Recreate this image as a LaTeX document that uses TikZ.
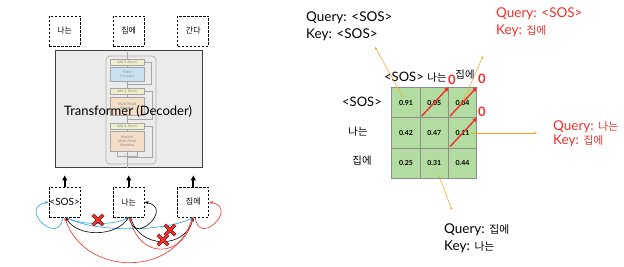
\documentclass[tikz,border=0pt]{standalone}
\usepackage{fontspec}
\setmainfont{Lato}
\newfontfamily\kr[Scale=0.8]{Noto Sans CJK KR}
\usetikzlibrary{arrows.meta,shapes.misc}
\definecolor{qblue}{HTML}{29A8E0}
\definecolor{qred}{HTML}{F0302A}
\definecolor{hint}{HTML}{F5A31E}
\definecolor{cellgreen}{HTML}{B3DDA0}
\definecolor{tfgray}{HTML}{EBEBEB}
\definecolor{anfill}{HTML}{EEF0CC}
\definecolor{fffill}{HTML}{C8E3EF}
\definecolor{attfill}{HTML}{F4DEC8}

\begin{document}
\begin{tikzpicture}[
  x=1pt, y=-1pt, font=\fontsize{10}{12}\selectfont,
  tok/.style={draw,line width=0.8pt,dash pattern=on 2.5pt off 1.5pt,minimum width=31pt,
              minimum height=30pt,inner sep=0pt},
  blk/.style={draw=black!35,line width=0.4pt,minimum width=34pt,inner sep=0pt,align=center,
              text=black!45,font=\fontsize{3.6}{4}\selectfont},
  res/.style={draw=black!35,line width=0.5pt,-{Stealth[length=1.5pt,width=1.5pt]}},
  up/.style={-{Triangle[length=5pt,width=5pt]},line width=1.8pt,shorten >=7pt},
  att/.style={line width=0.6pt,-{Stealth[length=4pt,width=3pt]}},
  xmark/.style={cross out,draw=black,line width=0.4pt,double=qred,double distance=2.6pt,
                minimum size=10pt,inner sep=0pt},
  cell/.style={draw=black!45,line width=0.8pt,fill=cellgreen,minimum width=28.3pt,
               minimum height=30.3pt,inner sep=0pt,font=\fontsize{7}{8}\selectfont\bfseries},
  hdr/.style={font=\fontsize{13}{15}\selectfont},
  zero/.style={text=qred,font=\fontsize{13}{14}\selectfont\bfseries,inner sep=0pt},
  zeroarrow/.style={qred,line width=1.4pt,-{Triangle[length=4.5pt,width=4pt]}},
  hintarrow/.style={hint,line width=0.5pt,-{Stealth[length=3pt,width=2.5pt]}},
  qk/.style={align=left,anchor=north west,inner sep=0pt,font=\fontsize{13.5}{17}\selectfont}]

\useasboundingbox (0,0) rectangle (624,267);

% outputs
\node[tok] (o1) at ( 64.7,31) {{\kr 나는}};
\node[tok] (o2) at (128.7,31) {{\kr 집에}};
\node[tok] (o3) at (193.3,31) {{\kr 간다}};

% decoder block
\node[draw=black!75,line width=1pt,fill=tfgray,minimum width=147pt,minimum height=117pt] (tf) at (128.5,109.5) {};
\draw[black!35,line width=0.5pt] (127,52) -- (127,168);
\node[draw=black!30,line width=0.7pt,rounded corners=4pt,minimum width=50pt,minimum height=108pt] (dec) at (131,110) {};
\node[blk,fill=anfill,minimum height=6pt] (an1) at (127,62) {Add \& Norm};
\node[blk,fill=fffill,minimum height=14pt] (ff) at (127,74) {Feed\\Forward};
\node[blk,fill=anfill,minimum height=6pt] (an2) at (127,91) {Add \& Norm};
\node[blk,fill=attfill,minimum height=18pt] (mha) at (127,106) {Multi-Head\\Attention};
\node[blk,fill=anfill,minimum height=6pt] (an3) at (127,126) {Add \& Norm};
\node[blk,fill=attfill,minimum height=20pt] (mmha) at (127,141) {Masked\\Multi-Head\\Attention};
\draw[res] ([yshift=-3pt]ff.south) -- ++(24,0) |- (an1.east);
\draw[res] ([yshift=-4pt]mha.south) -- ++(25,0) |- (an2.east);
\draw[res] ([yshift=-6pt]mmha.south) -- ++(25,0) |- (an3.east);
\draw[black!35,line width=0.5pt] ([xshift=-10pt]mmha.south) |- ([yshift=-5pt]mmha.south) -| ([xshift=10pt]mmha.south);
\node[font=\fontsize{13}{15}\selectfont] (tftxt) at (128,111) {Transformer (Decoder)};

% inputs
\node[tok] (sos) at ( 64.7,202) {<SOS>};
\node[tok] (na)  at (128.7,202) {{\kr 나는}};
\node[tok] (jip) at (193.3,202) {{\kr 집에}};
\draw[up] (sos.north) -- (sos.north |- tf.south);
\draw[up] (na.north) -- (na.north |- tf.south);
\draw[up] (jip.north) -- (jip.north |- tf.south);

% attention links
\draw[att,qblue] ([xshift=-2pt]sos.south) .. controls +(-3,30) and +(-32,6) .. (sos.west);
\draw[att,qblue] ([xshift=1pt]sos.south) .. controls +(15,8) and +(-15,8) .. (na.south);
\draw[att,qblue] ([xshift=2pt]sos.south) .. controls +(25,15) and +(-30,15) .. (jip.south);
\draw[att,black] (na.south) .. controls +(-12,20) and +(12,20) .. ([xshift=1pt]sos.south);
\draw[att,black] ([xshift=1pt]na.south) .. controls +(3,30) and +(30,6) .. (na.east);
\draw[att,black] ([xshift=2pt]na.south) .. controls +(8,32) and +(-8,32) .. (jip.south);
\draw[att,qred] ([xshift=2pt]jip.south) .. controls +(3,30) and +(30,6) .. (jip.east);
\draw[att,qred] (jip.south) .. controls +(-10,42) and +(10,42) .. ([xshift=1pt]na.south);
\draw[att,qred] ([xshift=-1pt]jip.south) .. controls +(-15,60) and +(20,60) .. (sos.south);
\node[xmark] (x1) at (98,220) {};
\node[xmark] (x2) at (170,230) {};
\node[xmark] (x3) at (163,240) {};

% attention map
\node[cell] (c11) at (406,102.5) {0.91};
\node[cell] (c12) at (434.3,102.5) {0.05};
\node[cell] (c13) at (462.6,102.5) {0.04};
\node[cell] (c21) at (406,133) {0.42};
\node[cell] (c22) at (434.3,133) {0.47};
\node[cell] (c23) at (462.6,133) {0.11};
\node[cell] (c31) at (406,163.3) {0.25};
\node[cell] (c32) at (434.3,163.3) {0.31};
\node[cell] (c33) at (462.6,163.3) {0.44};
\node[hdr] (h1) at (404,77) {<SOS>};
\node[hdr] (h2) at (437,78) {{\kr 나는}};
\node[hdr] (h3) at (465,75) {{\kr 집에}};
\node[hdr] (r1) at (362,102) {<SOS>};
\node[hdr] (r2) at (358,132) {{\kr 나는}};
\node[hdr] (r3) at (362,161) {{\kr 집에}};

\node[zero] (z1) at (452,80) {0};
\node[zero] (z2) at (482,79) {0};
\node[zero] (z3) at (482,112) {0};
\draw[zeroarrow] ([shift={(2pt,2pt)}]c12.south west) -- (c12.north east);
\draw[zeroarrow] ([shift={(2pt,2pt)}]c13.south west) -- (c13.north east);
\draw[zeroarrow] ([shift={(2pt,2pt)}]c23.south west) -- (c23.north east);

\coordinate (p1) at (375,47);
\coordinate (p2) at (483,56);
\coordinate (p3) at (537,133);
\coordinate (p4) at (452,210);
\draw[hintarrow,shorten <=6pt] (c11.center) -- (p1);
\draw[hintarrow,shorten <=2pt] (c13.center) -- (p2);
\draw[hintarrow,shorten <=8pt] (c23.center) -- (p3);
\draw[hintarrow,shorten <=12pt] (c32.center) -- (p4);

\node[qk] (l1) at (306,12) {Query: <SOS>\\Key: <SOS>};
\node[qk,text=qred] (l2) at (496,8) {Query: <SOS>\\Key: {\kr 집에}};
\node[qk,text=qred,font=\fontsize{13.5}{13.5}\selectfont] (l3) at (553,121) {Query: {\kr 나는}\\Key: {\kr 집에}};
\node[qk] (l4) at (444,224) {Query: {\kr 집에}\\Key: {\kr 나는}};
\end{tikzpicture}
\end{document}
